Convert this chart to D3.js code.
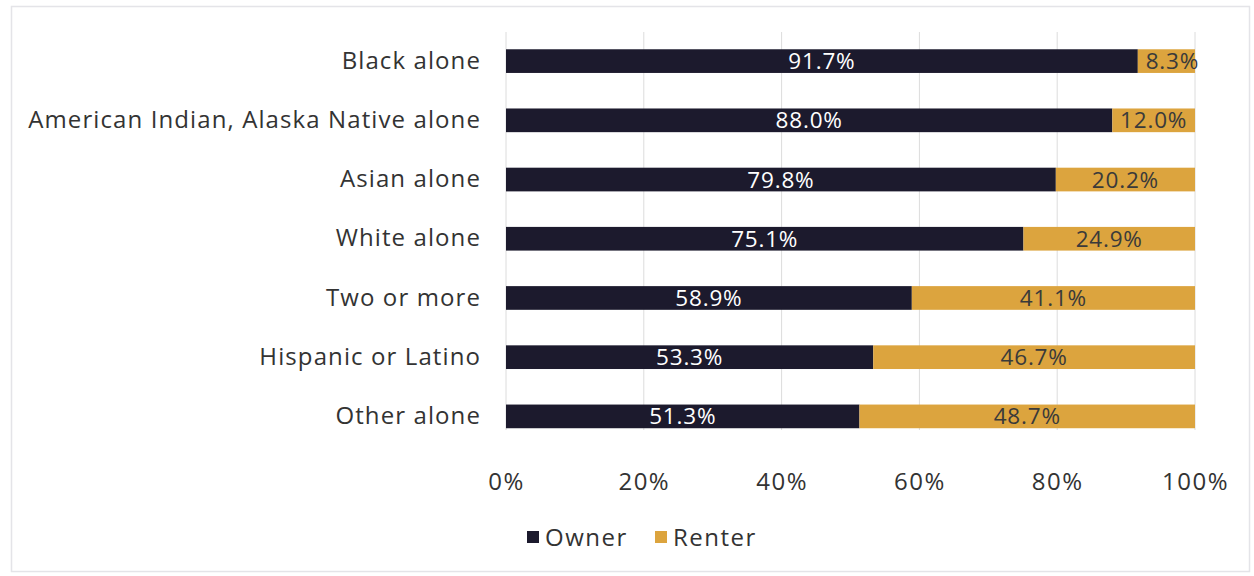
<!DOCTYPE html>
<html>
<head>
<meta charset="utf-8">
<script src="https://cdn.jsdelivr.net/npm/d3@7"></script>
<style>
  html, body { margin: 0; padding: 0; background: #ffffff; }
  svg { display: block; font-family: "Open Sans", Lato, sans-serif; }
</style>
</head>
<body>
<svg id="chart" width="1254" height="576"></svg>
<script>
// Tenure by race / ethnicity (share of households)
const categories = [
  "Black alone",
  "American Indian, Alaska Native alone",
  "Asian alone",
  "White alone",
  "Two or more",
  "Hispanic or Latino",
  "Other alone"
];
const ownerPct  = [91.7, 88.0, 79.8, 75.1, 58.9, 53.3, 51.3];
const renterPct = [8.3, 12.0, 20.2, 24.9, 41.1, 46.7, 48.7];
const tickValues = [0, 20, 40, 60, 80, 100];
const seriesNames = ["Owner", "Renter"];
const seriesColors = ["#1c1a2d", "#dca43e"];

const svg = d3.select("#chart");
const W = 1254, H = 576;
const FONT = "'Open Sans', Lato, sans-serif";

// light frame around the chart area
svg.append("rect")
  .attr("x", 11.5).attr("y", 6.5)
  .attr("width", W - 16).attr("height", H - 11)
  .attr("fill", "none").attr("stroke", "#e4e4e8").attr("stroke-width", 1.5);

const plotLeft = 506, plotRight = 1195, gridTop = 32, gridBottom = 430;
const x = d3.scaleLinear().domain([0, 100]).range([plotLeft, plotRight]);
const y = d3.scaleBand().domain(categories)
  .range([31.5, 446]).paddingInner(0.6).paddingOuter(0.3);

// vertical gridlines
svg.append("g").selectAll("line").data(tickValues).join("line")
  .attr("x1", d => x(d)).attr("x2", d => x(d))
  .attr("y1", gridTop).attr("y2", gridBottom)
  .attr("stroke", "#dcdcdc").attr("stroke-width", 1);

const rows = categories.map((c, i) => ({ c, owner: ownerPct[i], renter: renterPct[i] }));
const stack = d3.stack().keys(["owner", "renter"])(rows);

const layers = svg.append("g").selectAll("g").data(stack).join("g")
  .attr("fill", (d, i) => seriesColors[i]);

layers.selectAll("rect").data(d => d).join("rect")
  .attr("x", d => x(d[0]))
  .attr("y", d => y(d.data.c))
  .attr("width", d => x(d[1]) - x(d[0]))
  .attr("height", y.bandwidth());

// value labels centred in each segment
layers.each(function(layer, i) {
  d3.select(this).selectAll("text").data(layer).join("text")
    .attr("x", d => (x(d[0]) + x(d[1])) / 2 + (i === 1 && d[1] - d[0] < 10 ? 6 : 0))
    .attr("y", d => y(d.data.c) + y.bandwidth() / 2)
    .attr("dy", "0.36em")
    .attr("text-anchor", "middle")
    .attr("font-size", 22.5)
    .attr("letter-spacing", "0.8px")
    .attr("font-family", FONT)
    .attr("fill", i === 0 ? "#ffffff" : "#3a3a3a")
    .text(d => d3.format(".1f")(d[1] - d[0]) + "%");
});

// category labels
const yAxis = d3.axisLeft(y).tickSize(0).tickPadding(25);
svg.append("g").attr("transform", `translate(${plotLeft},0)`).call(yAxis)
  .call(g => g.select(".domain").remove())
  .selectAll("text")
  .attr("font-size", 24).attr("letter-spacing", "1.1px").attr("fill", "#333333")
  .attr("font-family", FONT);

// percentage axis
const xAxis = d3.axisBottom(x).tickValues(tickValues).tickSize(0).tickPadding(0)
  .tickFormat(d => d + "%");
svg.append("g").attr("transform", "translate(0,473)").call(xAxis)
  .call(g => g.select(".domain").remove())
  .selectAll("text")
  .attr("font-size", 24).attr("letter-spacing", "1.5px").attr("fill", "#333333")
  .attr("font-family", FONT);

// legend
const legend = svg.append("g").attr("transform", "translate(527,537)");
const lx = [0, 128];
seriesNames.forEach((name, i) => {
  const g = legend.append("g").attr("transform", `translate(${lx[i]},0)`);
  g.append("rect").attr("x", 0).attr("y", -6).attr("width", 12).attr("height", 12)
    .attr("fill", seriesColors[i]);
  g.append("text").attr("x", 18).attr("y", 0).attr("dy", "0.36em")
    .attr("font-size", 24).attr("letter-spacing", "1.5px").attr("font-family", FONT)
    .attr("fill", "#333333").text(name);
});
</script>
</body>
</html>
